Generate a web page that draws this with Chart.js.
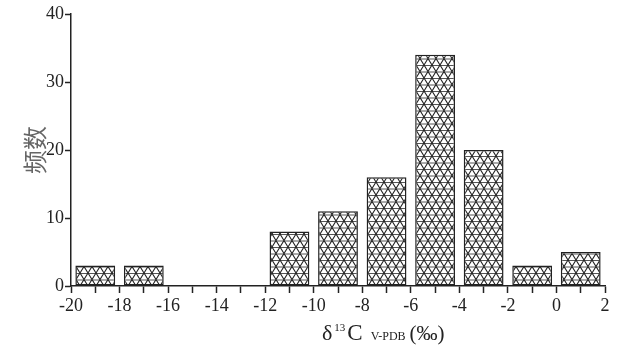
<!DOCTYPE html>
<html>
<head>
    <title>δ13C 频数分布</title>
    <script src="https://cdn.jsdelivr.net/npm/chart.js"></script>
    <style>
        html, body { margin: 0; padding: 0; background: #fff; }
        #wrap { width: 620px; height: 351px; }
    </style>
</head>
<body>
<div id="wrap"><canvas id="histChart" width="620" height="351"></canvas></div>
<script>
// 直方图数据 (组中值, 频数)
const binCenters = [-19, -17, -15, -13, -11, -9, -7, -5, -3, -1, 1];
const counts = [3, 3, 0, 0, 8, 11, 16, 34, 20, 3, 5];
const yTicks = [0, 10, 20, 30, 40];
const yTitle = '频数';

// 三角网格填充
function makePattern() {
    const w = 8, h = 6.5;
    const c = document.createElement('canvas');
    c.width = w; c.height = 13;
    const g = c.getContext('2d');
    g.fillStyle = '#fff';
    g.fillRect(0, 0, w, 13);
    g.strokeStyle = '#555';
    g.lineWidth = 1;
    g.beginPath();
    g.moveTo(0, 0.5); g.lineTo(w, 0.5);
    g.moveTo(0, h + 0.5); g.lineTo(w, h + 0.5);
    g.stroke();
    g.strokeStyle = '#222';
    g.lineWidth = 1.1;
    g.beginPath();
    g.moveTo(0, 0); g.lineTo(w, 13);
    g.moveTo(w, 0); g.lineTo(0, 13);
    g.stroke();
    return g.createPattern(c, 'repeat');
}

const serif = '"Liberation Serif", "Times New Roman", serif';

const axisTitles = {
    id: 'axisTitles',
    afterDraw(chart) {
        const ctx = chart.ctx;
        ctx.save();
        // y 轴标题
        ctx.fillStyle = '#666';
        ctx.font = '24px "Noto Sans CJK SC", sans-serif';
        ctx.translate(35, 150);
        ctx.rotate(-Math.PI / 2);
        ctx.textAlign = 'center';
        ctx.textBaseline = 'middle';
        ctx.fillText(yTitle, 0, 0);
        ctx.restore();

        // x 轴标题: δ13C V-PDB (‰)
        ctx.save();
        ctx.fillStyle = '#222';
        ctx.textBaseline = 'alphabetic';
        const parts = [
            ['δ', '22px ' + serif, 0, 2],
            ['13', '11px ' + serif, -9, 2],
            ['C', '23px ' + serif, 0, 8],
            ['V-PDB', '12px ' + serif, 0, 4],
            ['(‰)', '21px ' + serif, 0, 0]
        ];
        let x = 322;
        const base = 340;
        parts.forEach(([t, f, dy, gap]) => {
            ctx.font = f;
            ctx.fillText(t, x, base + dy);
            x += ctx.measureText(t).width + gap;
        });
        ctx.restore();
    }
};

new Chart(document.getElementById('histChart'), {
    type: 'bar',
    data: {
        datasets: [{
            data: binCenters.map((x, i) => ({ x: x, y: counts[i] })),
            backgroundColor: makePattern(),
            borderColor: '#222',
            borderWidth: ctx => (ctx.raw && ctx.raw.y === 0 ? 0 : 1.5),
            borderSkipped: false,
            // 刻度间距为 1 个单位, 组宽为 2 个单位
            barPercentage: 1.64,
            categoryPercentage: 1
        }]
    },
    options: {
        responsive: false,
        animation: false,
        layout: { padding: { top: 14, right: 15, left: 0, bottom: 0 } },
        plugins: {
            legend: { display: false },
            tooltip: { enabled: false }
        },
        scales: {
            x: {
                type: 'linear',
                min: -20,
                max: 2,
                offset: false,
                afterFit: s => { s.height = 65; },
                border: { display: true, color: '#222', width: 1.5 },
                grid: { offset: false, drawOnChartArea: false, drawTicks: true, tickLength: 7, tickColor: '#222', tickWidth: 1.5 },
                ticks: {
                    stepSize: 1,
                    autoSkip: false,
                    maxRotation: 0,
                    padding: 2,
                    color: '#222',
                    font: { family: serif, size: 18 },
                    callback: v => (v % 2 === 0 ? String(v) : '')
                }
            },
            y: {
                min: 0,
                max: 40,
                afterFit: s => { s.width = 71; },
                afterBuildTicks: s => { s.ticks = yTicks.map(v => ({ value: v })); },
                border: { display: true, color: '#222', width: 1.5 },
                grid: { drawOnChartArea: false, drawTicks: true, tickLength: 6, tickColor: '#222', tickWidth: 1.5 },
                ticks: {
                    padding: 1,
                    color: '#222',
                    font: { family: serif, size: 18 }
                }
            }
        }
    },
    plugins: [axisTitles]
});
</script>
</body>
</html>
